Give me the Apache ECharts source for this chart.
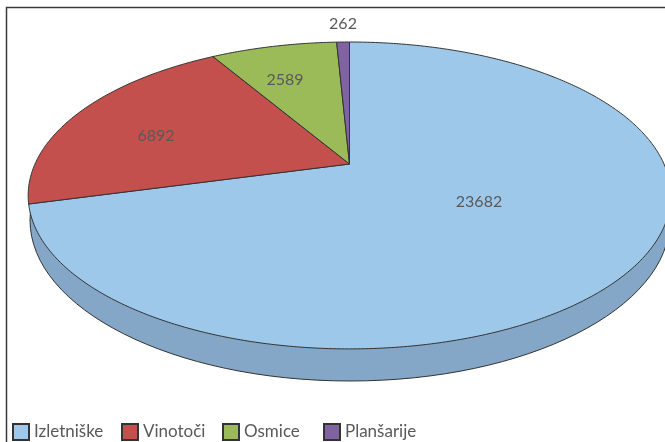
<!DOCTYPE html>
<html>
<head>
<meta charset="utf-8">
<style>
  html, body { margin: 0; padding: 0; background: #fff; }
  #main { width: 665px; height: 442px; }
</style>
</head>
<body>
<div id="main"></div>
<script src="https://cdn.jsdelivr.net/npm/echarts@6/dist/echarts.min.js"></script>
<script>
var categories = ['Izletniške', 'Vinotoči', 'Osmice', 'Planšarije'];
var values = [23682, 6892, 2589, 262];
var colors = ['#9dc8ea', '#c4504d', '#9bbb59', '#8064a2'];
var wallColor = '#84a6c7';
var lineColor = '#333333';

// centre of the labels in pixels, the pie is drawn tilted so they do not sit on a simple radius
var labelSpots = [[479, 202], [156, 136], [285, 80], [343, 24]];
var legendLefts = [12, 121, 222, 323];

// tilted disc: apex of the slices, half axes and how much the far side shrinks
var apex = [349.5, 164];
var axisX = 314.5;
var axisY = 147;
var tilt = 0.205;
// underside of the disc, only its lower edge shows below the top
var under = { cx: 350, cy: 220, rx: 320, ry: 161 };

var total = values.reduce(function (a, b) { return a + b; }, 0);

// angle is clockwise from the top of the disc
function rim(angle) {
    var u = Math.sin(angle), v = Math.cos(angle);
    var w = 1 + tilt * v;
    return [apex[0] + axisX * u / w, apex[1] - axisY * v / w];
}

function rimPoints(from, to) {
    var pts = [];
    var steps = Math.max(2, Math.ceil(Math.abs(to - from) / 0.01));
    for (var i = 0; i <= steps; i++) {
        pts.push(rim(from + (to - from) * i / steps));
    }
    return pts;
}

function sliceStart(idx) {
    var sum = 0;
    for (var i = 0; i < idx; i++) sum += values[i];
    return sum / total * Math.PI * 2;
}

function makeSeries(idx) {
    return {
        type: 'custom',
        name: categories[idx],
        coordinateSystem: 'none',
        silent: true,
        animation: false,
        itemStyle: { color: colors[idx], borderColor: lineColor, borderWidth: 1 },
        data: [values[idx]],
        renderItem: function (params, api) {
            var start = sliceStart(idx);
            var end = start + api.value(0) / total * Math.PI * 2;
            var children = [];
            if (idx === 0) {
                children.push({
                    type: 'ellipse',
                    shape: under,
                    style: { fill: wallColor, stroke: lineColor, lineWidth: 1 }
                });
            }
            children.push({
                type: 'polygon',
                shape: { points: [apex].concat(rimPoints(start, end)) },
                style: { fill: colors[idx], stroke: lineColor, lineWidth: 1 }
            });
            children.push({
                type: 'text',
                z2: 10,
                x: labelSpots[idx][0],
                y: labelSpots[idx][1],
                style: {
                    text: String(api.value(0)),
                    fill: '#595959',
                    font: '16px Lato',
                    textAlign: 'center',
                    textVerticalAlign: 'middle'
                }
            });
            return { type: 'group', children: children };
        }
    };
}

var chart = echarts.init(document.getElementById('main'), null, { renderer: 'canvas' });
chart.setOption({
    backgroundColor: '#ffffff',
    animation: false,
    legend: categories.map(function (c, i) {
        return {
            data: [c],
            left: legendLefts[i],
            top: 423,
            padding: 0,
            itemWidth: 16,
            itemHeight: 16,
            icon: 'rect',
            selectedMode: false,
            textStyle: { color: '#595959', fontFamily: 'Lato', fontSize: 17 }
        };
    }),
    graphic: [{
        type: 'polyline',
        silent: true,
        shape: { points: [[6.5, 442], [6.5, 7.5], [665, 7.5]] },
        style: { fill: null, stroke: '#3a3a3a', lineWidth: 1.5 }
    }],
    series: categories.map(function (c, i) { return makeSeries(i); })
});
</script>
</body>
</html>
